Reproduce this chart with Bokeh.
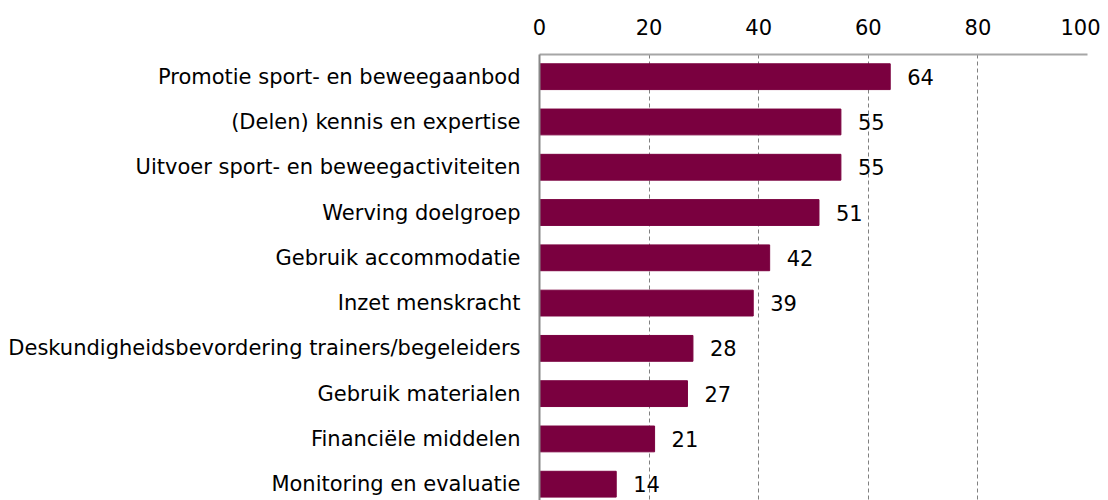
from bokeh.plotting import figure
from bokeh.models import Range1d, FixedTicker, ColumnDataSource
from bokeh.core.properties import value
from bokeh.embed import file_html
from bokeh.resources import INLINE

categories = [
    "Promotie sport- en beweegaanbod",
    "(Delen) kennis en expertise",
    "Uitvoer sport- en beweegactiviteiten",
    "Werving doelgroep",
    "Gebruik accommodatie",
    "Inzet menskracht",
    "Deskundigheidsbevordering trainers/begeleiders",
    "Gebruik materialen",
    "Financiële middelen",
    "Monitoring en evaluatie",
]
values = [64, 55, 55, 51, 42, 39, 28, 27, 21, 14]
x_ticks = [0, 20, 40, 60, 80, 100]

FONT = "DejaVu Sans"
BAR = "#7a003f"

pos = list(range(len(categories)))
src = ColumnDataSource(dict(y=pos, v=values, lab=[str(v) for v in values]))

p = figure(width=1100, height=500, output_backend="svg", toolbar_location=None,
           x_range=Range1d(0, 100), y_range=Range1d(9.36, -0.49),
           x_axis_location="above", min_border_left=539, min_border_right=13,
           min_border_top=54, min_border_bottom=0)
p.outline_line_color = None
p.background_fill_color = "white"

p.hbar(y="y", right="v", left=0, height=0.57, source=src,
       fill_color=BAR, line_color=BAR)
p.text(x="v", y="y", text="lab", source=src, x_offset=17,
       text_align="left", text_baseline="middle",
       text_font=value(FONT), text_font_size="21px", text_color="black")

xa = p.xaxis[0]
xa.ticker = FixedTicker(ticks=x_ticks)
xa.major_tick_line_color = None
xa.minor_tick_line_color = None
xa.axis_line_color = "#a6a6a6"
xa.axis_line_width = 2
xa.major_label_text_font = FONT
xa.major_label_text_font_size = "21px"
xa.major_label_text_color = "black"
xa.major_label_standoff = 14

ya = p.yaxis[0]
ya.ticker = FixedTicker(ticks=pos)
ya.major_label_overrides = {i: c for i, c in enumerate(categories)}
ya.major_tick_line_color = None
ya.minor_tick_line_color = None
ya.axis_line_color = "#888888"
ya.axis_line_width = 2
ya.major_label_text_font = FONT
ya.major_label_text_font_size = "21px"
ya.major_label_text_color = "black"
ya.major_label_standoff = 13

p.ygrid.grid_line_color = None
p.xgrid.ticker = FixedTicker(ticks=x_ticks[1:])
p.xgrid.grid_line_color = "#808080"
p.xgrid.grid_line_dash = "4 3"
p.xgrid.grid_line_width = 1

open("out.html", "w").write(file_html(p, INLINE))
